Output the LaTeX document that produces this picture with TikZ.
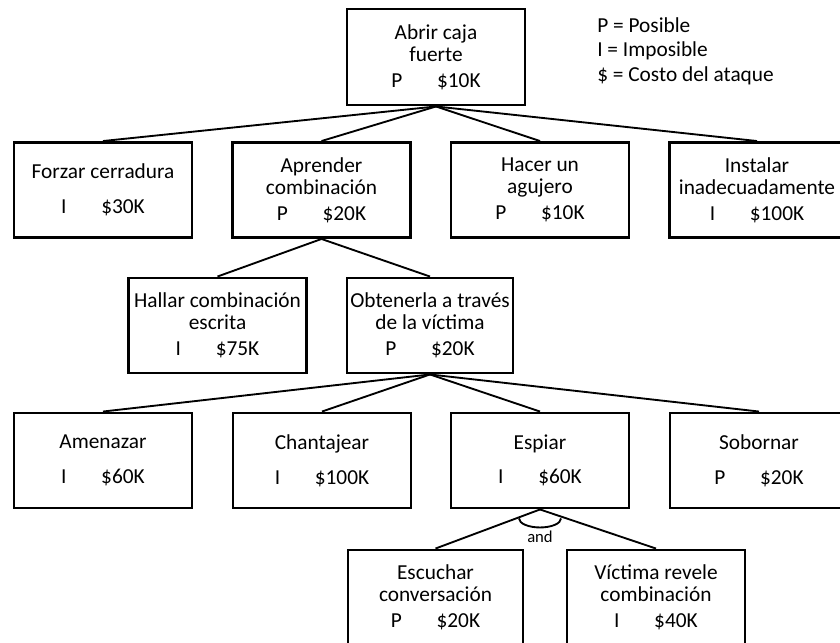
\documentclass[tikz,border=0pt]{standalone}
\usepackage{fontspec}
\setmainfont{Carlito}

\tikzset{
    box/.style={draw, line width=2.2pt, minimum width=133.5pt, minimum height=71.25pt,
        inner sep=0pt, align=center, font=\fontsize{16}{16.5}\selectfont},
    link/.style={line width=1.4pt},
}
\newcommand{\cost}[2]{#1\hspace{26pt}\$#2K}

\begin{document}
\begin{tikzpicture}[x=0.75pt, y=-0.75pt]
    \useasboundingbox (0,0) rectangle (840,643);

    % root and legend
    \node[box, minimum height=72pt] (root) at (436,57) {Abrir caja\\fuerte\\[3pt]\cost{P}{10}};
    \node[anchor=north west, align=left, inner sep=0pt, font=\fontsize{16}{18.6}\selectfont]
        (legend) at (597,17) {P = Posible\\I = Imposible\\\$ = Costo del ataque};

    % first level
    \node[box] (forzar) at (103,190) {Forzar cerradura\\[9.5pt]\cost{I}{30}};
    \node[box] (aprender) at (321.5,190) {Aprender\\combinación\\[3pt]\cost{P}{20}};
    \node[box] (hacer) at (540,190) {Hacer un\\agujero\\[3pt]\cost{P}{10}};
    \node[box, minimum width=131.25pt] (instalar) at (757,190) {Instalar\\inadecuadamente\\[3pt]\cost{I}{100}};

    % second level
    \node[box] (hallar) at (217.5,325.5) {Hallar combinación\\escrita\\[3pt]\cost{I}{75}};
    \node[box, minimum width=124.5pt] (obtener) at (430,325.5) {Obtenerla a través\\de la víctima\\[3pt]\cost{P}{20}};

    % third level
    \node[box] (amenazar) at (103,460.5) {Amenazar\\[9.5pt]\cost{I}{60}};
    \node[box] (chantajear) at (322,460.5) {Chantajear\\[9.5pt]\cost{I}{100}};
    \node[box] (espiar) at (540,460.5) {Espiar\\[9.5pt]\cost{I}{60}};
    \node[box] (sobornar) at (759,460.5) {Sobornar\\[9.5pt]\cost{P}{20}};

    % fourth level
    \node[box, minimum width=131.25pt] (escuchar) at (435.5,597.5) {Escuchar\\conversación\\[3pt]\cost{P}{20}};
    \node[box] (revele) at (656,597.5) {Víctima revele\\combinación\\[3pt]\cost{I}{40}};

    % connectors
    \foreach \c in {forzar,aprender,hacer,instalar}
        \draw[link] (root.south) -- (\c.north);
    \foreach \c in {hallar,obtener}
        \draw[link] (aprender.south) -- (\c.north);
    \foreach \c in {amenazar,chantajear,espiar,sobornar}
        \draw[link] (obtener.south) -- (\c.north);
    \foreach \c in {escuchar,revele}
        \draw[link] (espiar.south) -- (\c.north);

    % and-arc
    \draw[link] ([xshift=-15.75pt, yshift=-6.75pt]espiar.south)
        arc[start angle=180, end angle=360, x radius=15.75pt, y radius=6.75pt];
    \node[font=\fontsize{12.5}{14}\selectfont, inner sep=0pt] (andlbl) at ([yshift=-20.5pt]espiar.south) {and};
\end{tikzpicture}
\end{document}
